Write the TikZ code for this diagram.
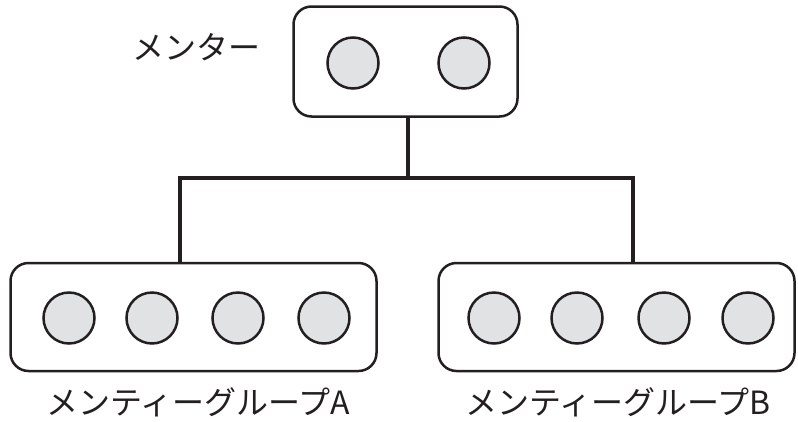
\documentclass[tikz,border=0pt]{standalone}
\usepackage{fontspec}
\newfontfamily\jp{Noto Sans CJK JP}
\definecolor{ink}{HTML}{231F20}
\definecolor{fillg}{HTML}{E1E2E4}
\begin{document}
\begin{tikzpicture}[x=1pt,y=-1pt,
  box/.style={draw=ink,line width=2.5pt,rounded corners=18pt,fill=white,inner sep=0},
  person/.style={circle,draw=ink,line width=2.5pt,fill=fillg,minimum size=51pt,inner sep=0},
  conn/.style={draw=ink,line width=4pt,line join=miter},
  lbl/.style={font=\jp\fontsize{32}{32}\selectfont,text=ink,inner sep=0}]
\useasboundingbox (0,0) rectangle (798,421);
\node[box,minimum width=224pt,minimum height=110pt] (m) at (405.5,61.5) {};
\node[box,minimum width=366pt,minimum height=108pt] (ga) at (193.5,317) {};
\node[box,minimum width=356pt,minimum height=108pt] (gb) at (616.5,317) {};
\node[person] (m1) at (353,63) {};
\node[person] (m2) at (464,63) {};
\node[person] (a1) at (69,318) {};
\node[person] (a2) at (152,318) {};
\node[person] (a3) at (238,318) {};
\node[person] (a4) at (324,318) {};
\node[person] (b1) at (494,318) {};
\node[person] (b2) at (577,318) {};
\node[person] (b3) at (664,318) {};
\node[person] (b4) at (748,318) {};
\coordinate (j) at (408,178);
\coordinate (ja) at (180,178);
\coordinate (jb) at (633,178);
\draw[conn] (j |- m.south) -- (j);
\draw[conn] (ga.north -| ja) -- (ja) -- (jb) -- (jb |- gb.north);
\node[lbl] (lm) at (196,47) {メンター};
\node[lbl] (la) at (198,402) {メンティーグループA};
\node[lbl] (lb) at (618,402) {メンティーグループB};
\end{tikzpicture}
\end{document}
